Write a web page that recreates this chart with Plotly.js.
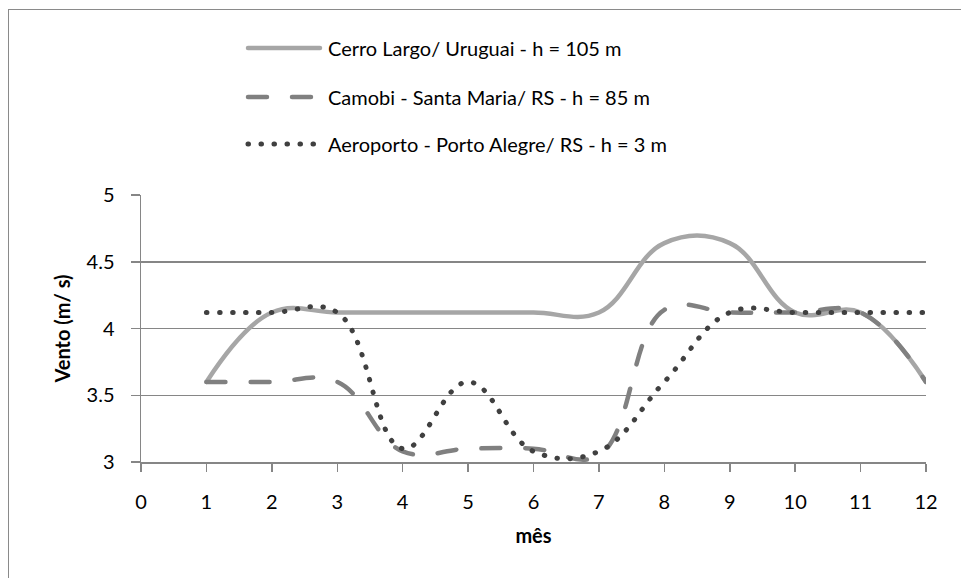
<!DOCTYPE html>
<html>
<head>
<meta charset="utf-8">
<script src="https://cdn.plot.ly/plotly-3.0.1.min.js"></script>
<style>
  html, body { margin: 0; padding: 0; background: #fff; }
  #wrap { position: relative; width: 961px; height: 578px; }
  #chart { width: 961px; height: 578px; }
  #frame { position: absolute; left: 8px; top: 9px; right: -2px; bottom: -2px;
           border-left: 1.5px solid #8a8a8a; border-top: 1.5px solid #8a8a8a;
           pointer-events: none; }
  .scatterlayer path.js-line, .shapelayer path { stroke-linecap: round; }
</style>
</head>
<body>
<div id="wrap">
  <div id="chart"></div>
  <div id="frame"></div>
</div>
<script>
// ---- data ----
var months = [1, 2, 3, 4, 5, 6, 7, 8, 9, 10, 11, 12];
var cerroLargo = [3.6, 4.12, 4.12, 4.12, 4.12, 4.12, 4.12, 4.64, 4.64, 4.12, 4.12, 3.6];
var camobi     = [3.6, 3.6, 3.6, 3.08, 3.1, 3.1, 3.05, 4.14, 4.12, 4.12, 4.12, 3.6];
var aeroporto  = [4.12, 4.12, 4.12, 3.1, 3.6, 3.08, 3.08, 3.6, 4.12, 4.12, 4.12, 4.12];
var seriesNames = [
  'Cerro Largo/ Uruguai - h = 105 m',
  'Camobi - Santa Maria/ RS - h = 85 m',
  'Aeroporto - Porto Alegre/ RS - h = 3 m'
];
var xTickVals = [0, 1, 2, 3, 4, 5, 6, 7, 8, 9, 10, 11, 12];
var yTickVals = [3, 3.5, 4, 4.5, 5];
var yTickText = ['3', '3.5', '4', '4.5', '5'];

// ---- styles ----
var FONT = 'Lato, "Open Sans", sans-serif';
var FS = 20;
var styles = [
  {color: '#a6a6a6', width: 4.5, dash: 'solid'},
  {color: '#808080', width: 4.5, dash: '19px,25px'},
  {color: '#404040', width: 5, dash: '0.5px,12.5px'}
];
var seriesY = [cerroLargo, camobi, aeroporto];

var traces = seriesY.map(function (ys, i) {
  return {
    x: months, y: ys, name: seriesNames[i], type: 'scatter', mode: 'lines',
    line: {shape: 'spline', smoothing: 1.15, color: styles[i].color,
           width: styles[i].width, dash: styles[i].dash},
    showlegend: false, hoverinfo: 'x+y'
  };
});

// custom legend (long sample lines like the original)
var legendRowsY = [1.5506, 1.367, 1.191];
var shapes = [], annotations = [];
seriesNames.forEach(function (n, i) {
  shapes.push({type: 'line', xref: 'paper', yref: 'paper',
    x0: 0.1363, x1: 0.228, y0: legendRowsY[i], y1: legendRowsY[i],
    line: {color: styles[i].color, width: styles[i].width, dash: styles[i].dash}});
  annotations.push({xref: 'paper', yref: 'paper', x: 0.2357, y: legendRowsY[i],
    xanchor: 'left', yanchor: 'middle', showarrow: false, text: n,
    font: {family: FONT, size: FS, color: '#000'}});
});

var layout = {
  width: 961, height: 578,
  margin: {l: 141, r: 35, t: 195, b: 116, pad: 0},
  paper_bgcolor: '#fff', plot_bgcolor: '#fff',
  font: {family: FONT, size: FS, color: '#000'},
  showlegend: false,
  xaxis: {
    range: [0, 12], tickvals: xTickVals, ticktext: xTickVals.map(String),
    showline: true, linecolor: '#868686', linewidth: 1.5,
    ticks: 'outside', ticklen: 8, tickcolor: '#868686', tickwidth: 1.5,
    showgrid: false, zeroline: false, ticklabelstandoff: 13,
    tickfont: {family: FONT, size: FS, color: '#000'},
    title: {text: '<b>mês</b>', font: {family: FONT, size: FS, color: '#000'}, standoff: 17}
  },
  yaxis: {
    range: [3, 5], tickvals: yTickVals, ticktext: yTickText,
    showline: true, linecolor: '#868686', linewidth: 1.5,
    ticks: 'outside', ticklen: 9, tickcolor: '#868686', tickwidth: 1.5,
    showgrid: true, gridcolor: '#868686', gridwidth: 1.5, zeroline: false,
    ticklabelstandoff: 12,
    tickfont: {family: FONT, size: FS, color: '#000'},
    title: {text: '<b>Vento (m/ s)</b>', font: {family: FONT, size: FS, color: '#000'}, standoff: 10}
  },
  shapes: shapes,
  annotations: annotations
};

Plotly.newPlot('chart', traces, layout, {displayModeBar: false, staticPlot: true});
</script>
</body>
</html>
